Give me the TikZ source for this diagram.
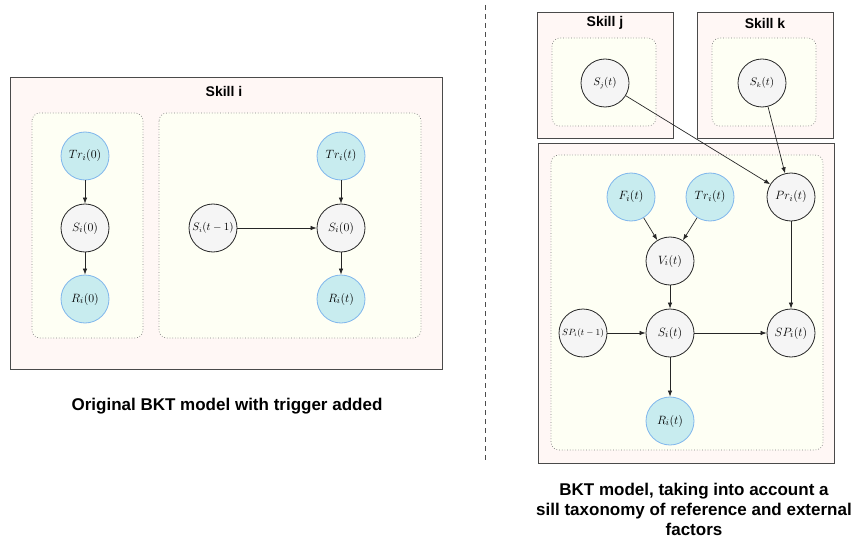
\documentclass[tikz,border=0pt]{standalone}
\usepackage{fontspec}
\setmainfont{Liberation Sans}
\usetikzlibrary{arrows.meta}
\definecolor{outerfill}{HTML}{FFF7F5}
\definecolor{outerline}{HTML}{4A4A4A}
\definecolor{innerfill}{HTML}{FEFFF4}
\definecolor{bluefill}{HTML}{C8ECEF}
\definecolor{blueline}{HTML}{7FB6EC}
\definecolor{grayfill}{HTML}{F5F5F5}
\tikzset{
  outerbox/.style={draw=outerline, fill=outerfill, line width=0.9pt},
  innerbox/.style={draw=gray, fill=innerfill, dotted, line width=0.7pt, rounded corners=8pt},
  obsnode/.style={circle, minimum size=48pt, inner sep=0pt, fill=bluefill, draw=blueline, line width=0.8pt, font=\fontsize{12.5}{14}\selectfont},
  latnode/.style={circle, minimum size=48pt, inner sep=0pt, fill=grayfill, draw=black!85, line width=0.8pt, font=\fontsize{12.5}{14}\selectfont},
  conn/.style={-{Latex[length=6pt,width=4.5pt]}, line width=0.7pt, black!85},
  title/.style={font=\fontsize{14}{16}\selectfont\bfseries},
  caption/.style={font=\fontsize{17}{20}\selectfont\bfseries, align=center}
}
\begin{document}
\begin{tikzpicture}[x=1pt,y=-1pt]
\useasboundingbox (0,0) rectangle (861,548);
% left panel
\draw[outerbox] (10,77) rectangle (442,369);
\node[title] (ti) at (224,91) {Skill i};
\draw[innerbox] (32,113) rectangle (143,338);
\draw[innerbox] (159,113) rectangle (421,338);
\node[obsnode] (tr0) at (85,156) {$Tr_i(0)$};
\node[latnode] (s0) at (85,228) {$S_i(0)$};
\node[obsnode] (r0) at (85,299) {$R_i(0)$};
\node[latnode, font=\fontsize{10.5}{12}\selectfont] (stm1) at (213,228) {$S_i(t-1)$};
\node[obsnode] (trt) at (341,156) {$Tr_i(t)$};
\node[latnode] (s0b) at (341,228) {$S_i(0)$};
\node[obsnode] (rt) at (341,299) {$R_i(t)$};
\draw[conn] (tr0) -- (s0);
\draw[conn] (s0) -- (r0);
\draw[conn] (trt) -- (s0b);
\draw[conn] (s0b) -- (rt);
\draw[conn] (stm1) -- (s0b);
\node[caption] (capl) at (227,406) {Original BKT model with trigger added};
% separator
\draw[dash pattern=on 5pt off 4pt, line width=0.8pt, black!70] (485,5) -- (485,463);
% right panel
\draw[outerbox] (537,12) rectangle (673,138);
\node[title] (tj) at (605,23) {Skill j};
\draw[innerbox] (552,38) rectangle (656,126);
\node[latnode, font=\fontsize{10.5}{12}\selectfont] (sj) at (605,83) {$S_j(t)$};
\draw[outerbox] (697,12) rectangle (833,138);
\node[title] (tk) at (765,23) {Skill k};
\draw[innerbox] (712,38) rectangle (816,126);
\node[latnode, font=\fontsize{10.5}{12}\selectfont] (sk) at (762,83) {$S_k(t)$};
\draw[outerbox] (538,143) rectangle (834,463);
\draw[innerbox] (551,155) rectangle (823,450);
\node[obsnode] (f) at (631,197) {$F_i(t)$};
\node[obsnode] (tr) at (710,197) {$Tr_i(t)$};
\node[latnode] (pr) at (791,197) {$Pr_i(t)$};
\node[latnode] (v) at (670,261) {$V_i(t)$};
\node[latnode, font=\fontsize{9}{11}\selectfont] (sptm1) at (583,333) {$SP_i(t-1)$};
\node[latnode] (s) at (670,333) {$S_i(t)$};
\node[latnode] (sp) at (791,333) {$SP_i(t)$};
\node[obsnode] (r) at (670,421) {$R_i(t)$};
\draw[conn] (sj) -- (pr);
\draw[conn] (sk) -- (pr);
\draw[conn] (f) -- (v);
\draw[conn] (tr) -- (v);
\draw[conn] (v) -- (s);
\draw[conn] (sptm1) -- (s);
\draw[conn] (s) -- (sp);
\draw[conn] (pr) -- (sp);
\draw[conn] (s) -- (r);
\node[caption] (capr) at (694,509) {BKT model, taking into account a\\sill taxonomy of reference and external\\factors};
\end{tikzpicture}
\end{document}
